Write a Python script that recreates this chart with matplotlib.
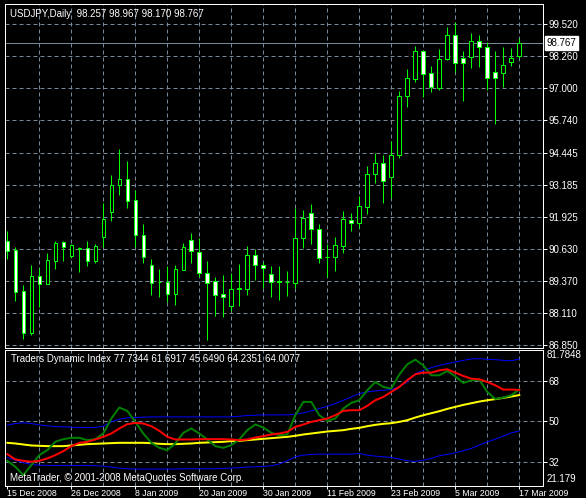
import matplotlib

matplotlib.use("Agg")
import matplotlib.pyplot as plt
import numpy as np
from matplotlib.patches import Rectangle

plt.rcParams["font.family"] = ["Liberation Sans", "DejaVu Sans"]

# ---- data (USDJPY daily, 65 bars) ----
opens = [90.96, 90.61, 88.99, 87.35, 89.58, 89.25, 90.19, 90.91, 90.38, 90.67,
         90.68, 90.19, 91.13, 92.10, 93.16, 93.40, 92.57, 91.19, 90.00, 89.36,
         89.36, 88.89, 89.83, 90.99, 90.52, 89.69, 89.37, 88.87, 88.41, 89.08,
         89.08, 90.40, 90.02, 89.66, 89.37, 89.34, 89.29, 91.09, 92.08, 91.42,
         90.33, 90.35, 90.78, 91.79, 91.66, 92.32, 93.59, 94.03, 93.47, 94.36,
         96.69, 97.34, 98.44, 97.57, 97.01, 98.13, 99.08, 98.17, 98.20, 98.86,
         98.60, 97.61, 97.60, 98.01, 98.257]
highs = [91.36, 90.71, 89.23, 90.02, 89.89, 90.50, 90.96, 90.96, 90.83, 90.71,
         90.96, 90.84, 92.45, 93.56, 94.58, 94.12, 92.97, 91.63, 90.25, 89.86,
         89.98, 90.00, 90.87, 91.26, 91.07, 90.17, 89.56, 89.62, 89.71, 90.06,
         90.77, 90.63, 90.15, 89.98, 89.98, 89.78, 92.25, 92.19, 92.42, 91.63,
         90.85, 91.13, 92.15, 92.05, 92.74, 93.92, 94.42, 94.35, 94.91, 96.89,
         97.74, 98.65, 98.49, 97.86, 98.53, 99.39, 99.60, 98.47, 99.15, 99.08,
         98.82, 98.45, 98.60, 98.56, 98.967]
lows = [90.24, 88.60, 87.10, 87.26, 88.37, 89.25, 89.87, 90.19, 90.28, 89.75,
        89.98, 90.11, 90.74, 91.77, 92.78, 92.28, 90.74, 90.11, 88.83, 88.77,
        88.57, 88.45, 89.80, 90.11, 89.56, 87.06, 88.02, 87.98, 88.22, 88.41,
        88.83, 89.43, 89.10, 88.77, 88.64, 88.80, 89.10, 90.70, 90.85, 90.11,
        89.56, 89.79, 90.50, 91.37, 91.46, 92.03, 93.26, 92.47, 92.65, 94.22,
        96.26, 97.24, 96.65, 96.85, 96.92, 98.10, 97.61, 96.50, 97.80, 97.84,
        96.92, 95.58, 97.02, 97.88, 98.170]
closes = [90.57, 88.97, 87.35, 89.58, 89.27, 90.21, 90.87, 90.71, 90.79, 90.65,
          90.19, 90.75, 91.82, 93.16, 93.40, 92.53, 91.19, 90.35, 89.32, 89.34,
          88.89, 89.85, 90.71, 90.55, 89.71, 89.32, 88.85, 88.77, 89.06, 89.10,
          90.40, 90.03, 89.89, 89.36, 89.35, 89.36, 91.07, 91.86, 91.42, 90.28,
          90.35, 90.79, 91.83, 91.66, 92.34, 93.60, 94.03, 93.31, 94.34, 96.67,
          97.38, 98.44, 97.53, 97.02, 98.13, 99.08, 97.97, 97.97, 98.86, 98.60,
          97.38, 97.38, 97.89, 98.17, 98.767]

# Traders Dynamic Index buffers
tdi_upper = [48.28, 49.02, 49.32, 49.02, 48.43, 47.98, 47.69, 47.54, 47.39, 47.24,
             47.24, 47.24, 47.83, 49.76, 50.95, 51.54, 51.69, 51.84, 51.98, 51.98,
             51.98, 51.98, 51.98, 51.98, 51.98, 51.98, 51.98, 51.98, 51.98, 52.28,
             52.58, 52.72, 52.87, 52.87, 52.87, 52.87, 53.17, 53.76, 54.65, 55.69,
             56.73, 57.91, 59.39, 60.88, 62.36, 63.10, 63.55, 63.84, 64.14, 65.32,
             67.54, 71.25, 72.73, 73.92, 74.95, 75.70, 76.44, 77.18, 77.77, 77.92,
             77.62, 77.47, 77.18, 77.03, 77.73]
tdi_lower = [33.90, 32.72, 31.53, 30.79, 30.49, 30.35, 30.35, 30.35, 30.35, 30.35,
             30.35, 30.20, 30.05, 29.61, 29.16, 28.86, 28.72, 28.72, 28.72, 28.72,
             28.72, 28.72, 28.86, 28.86, 28.86, 28.86, 28.86, 29.01, 29.16, 29.31,
             29.61, 29.75, 29.90, 30.20, 30.94, 32.42, 34.20, 34.94, 35.24, 35.39,
             35.39, 35.39, 35.39, 35.39, 35.68, 34.94, 34.50, 34.20, 33.90, 33.16,
             32.42, 32.13, 32.72, 33.46, 34.65, 35.24, 35.98, 36.87, 37.91, 39.39,
             40.87, 42.05, 43.39, 44.87, 45.65]
tdi_base = [40.42, 40.13, 39.68, 39.24, 39.09, 38.94, 38.94, 38.94, 39.24, 39.54,
            39.83, 39.98, 40.13, 40.28, 40.42, 40.42, 40.42, 40.42, 40.28, 39.98,
            39.83, 39.83, 39.98, 40.13, 40.42, 40.57, 40.72, 40.87, 41.17, 41.31,
            41.61, 41.91, 42.20, 42.50, 42.80, 43.09, 43.54, 44.13, 44.57, 45.02,
            45.46, 45.76, 46.06, 46.65, 47.09, 47.83, 48.43, 48.87, 49.17, 49.76,
            50.50, 51.69, 52.72, 53.61, 54.50, 55.54, 56.43, 57.32, 58.06, 58.80,
            59.39, 59.89, 60.45, 61.05, 61.69]
tdi_rsi = [32.42, 29.75, 26.05, 30.49, 34.94, 37.16, 40.87, 42.05, 42.65, 42.65,
           41.61, 42.05, 44.57, 51.24, 56.13, 54.65, 49.76, 44.57, 40.42, 38.20,
           37.16, 40.13, 44.87, 46.80, 44.57, 41.91, 38.94, 38.20, 39.39, 41.91,
           46.06, 48.58, 47.24, 44.87, 43.83, 44.13, 52.72, 58.65, 58.65, 52.72,
           50.21, 51.24, 55.69, 58.21, 59.39, 63.84, 67.54, 65.32, 64.58, 70.81,
           75.40, 77.47, 74.95, 70.51, 70.51, 72.44, 70.06, 67.10, 68.29, 68.58,
           63.10, 59.99, 60.58, 61.62, 64.24]
tdi_signal = [35.39, 33.01, 32.42, 31.98, 32.42, 33.46, 34.94, 36.72, 38.94, 40.42,
              40.87, 41.91, 43.09, 44.57, 46.80, 48.72, 49.32, 49.02, 47.83, 45.76,
              43.09, 41.91, 41.91, 41.91, 42.05, 42.05, 42.05, 42.05, 41.91, 41.61,
              41.91, 42.80, 43.39, 44.13, 44.57, 45.31, 47.54, 48.58, 49.76, 50.50,
              51.24, 52.72, 54.65, 54.95, 54.95, 56.87, 59.39, 60.88, 63.10, 65.32,
              68.29, 70.95, 71.69, 71.69, 72.73, 73.18, 71.69, 70.21, 69.03, 68.73,
              67.54, 66.06, 64.14, 64.14, 64.01]

price_levels = [99.520, 98.260, 97.000, 95.740, 94.445, 93.185, 91.925, 90.630, 89.370, 88.110, 86.850]
price_labels = ["99.520", "98.260", "97.000", "95.740", "94.445", "93.185", "91.925", "90.630",
                "89.370", "88.110", "86.850"]
tdi_levels = [68, 50, 32]
tdi_range = (21.179, 81.7848)
date_bars = [0, 8, 16, 24, 32, 40, 48, 56, 64]
date_labels = ["15 Dec 2008", "26 Dec 2008", "8 Jan 2009", "20 Jan 2009", "30 Jan 2009",
               "11 Feb 2009", "23 Feb 2009", "5 Mar 2009", "17 Mar 2009"]
last_price = 98.767
header = "USDJPY,Daily  98.257 98.967 98.170 98.767"
tdi_title = "Traders Dynamic Index 77.7344 61.6917 45.6490 64.2351 64.0077"
copyright_txt = "MetaTrader, \u00a9 2001-2008 MetaQuotes Software Corp."

# ---- styling ----
W, H = 586, 498
PX = 0.72  # one pixel in points at dpi 100
GRID = "#778899"
CANDLE = "#00FF00"
FS = 7

fig = plt.figure(figsize=(W / 100, H / 100), dpi=100, facecolor="black")


def pane(top_px, bot_px):
    left, right = 5, 542.7
    ax = fig.add_axes([left / W, 1 - bot_px / H, (right - left) / W, (bot_px - top_px) / H])
    ax.set_facecolor("black")
    for s in ax.spines.values():
        s.set_color("white")
        s.set_linewidth(PX)
    ax.set_xlim(-0.29, 66.93)
    ax.yaxis.tick_right()
    ax.tick_params(axis="y", colors="white", length=3, width=PX, pad=1, labelsize=FS)
    for b in range(4, 65, 4):
        ax.axvline(b, color=GRID, lw=PX, ls=(0, (4, 3)), zorder=1)
    return ax


x = np.arange(len(closes))

# main price pane
ax = pane(4, 348)
ax.set_ylim(86.743, 100.307)
ax.set_yticks(price_levels, price_labels)
ax.set_xticks([])
for lv in price_levels:
    ax.axhline(lv, color=GRID, lw=PX, ls=(0, (4, 3)), zorder=1)
ax.axhline(last_price, color=GRID, lw=PX, zorder=1.5)
w = 0.45
for i in x:
    o, h, l, c = opens[i], highs[i], lows[i], closes[i]
    ax.vlines(i, l, h, color=CANDLE, lw=PX, zorder=2)
    body = max(abs(c - o), 0.004)
    ax.add_patch(Rectangle((i - w / 2, min(o, c)), w, body, facecolor="white" if c < o else "black",
                           edgecolor=CANDLE, lw=PX, zorder=3))
ax.text(1.0075, last_price, f"{last_price:.3f}", transform=ax.get_yaxis_transform(),
        color="black", fontsize=FS, va="center", ha="left",
        bbox=dict(facecolor="white", edgecolor="white", pad=1.2), clip_on=False, zorder=5)

# indicator pane
ax2 = pane(350, 486)
ax2.set_ylim(*tdi_range)
ax2.set_yticks(tdi_levels, [str(v) for v in tdi_levels])
for lv in tdi_levels:
    ax2.axhline(lv, color=GRID, lw=PX, ls=(0, (4, 3)), zorder=1)
ax2.text(1.0075, tdi_range[1], "81.7848", transform=ax2.get_yaxis_transform(), color="white",
         fontsize=FS, va="top", ha="left")
ax2.text(1.0075, tdi_range[0] + 0.8, "21.179", transform=ax2.get_yaxis_transform(), color="white",
         fontsize=FS, va="bottom", ha="left")
ax2.plot(x, tdi_upper, color="#0000FF", lw=PX, zorder=3)
ax2.plot(x, tdi_lower, color="#0000FF", lw=PX, zorder=3)
ax2.plot(x, tdi_base, color="#FFFF00", lw=2 * PX, zorder=4)
ax2.plot(x, tdi_rsi, color="#008000", lw=2 * PX, zorder=5)
ax2.plot(x, tdi_signal, color="#FF0000", lw=2 * PX, zorder=6)
ax2.set_xticks(date_bars, date_labels)
# the bottom strip is only ~12 px tall, so the dates are a touch smaller to fit
ax2.tick_params(axis="x", colors="white", length=2, width=PX, pad=0, labelsize=6.3)
for lbl in ax2.get_xticklabels():
    lbl.set_ha("left")

fig.text(10 / W, 1 - 14 / H, header, color="white", fontsize=FS, va="center", ha="left")
fig.text(11 / W, 1 - 359 / H, tdi_title, color="white", fontsize=FS, va="center", ha="left")
fig.text(10 / W, 1 - 478 / H, copyright_txt, color="white", fontsize=FS, va="center", ha="left")

fig.savefig("out.png", dpi=100, facecolor="black")
